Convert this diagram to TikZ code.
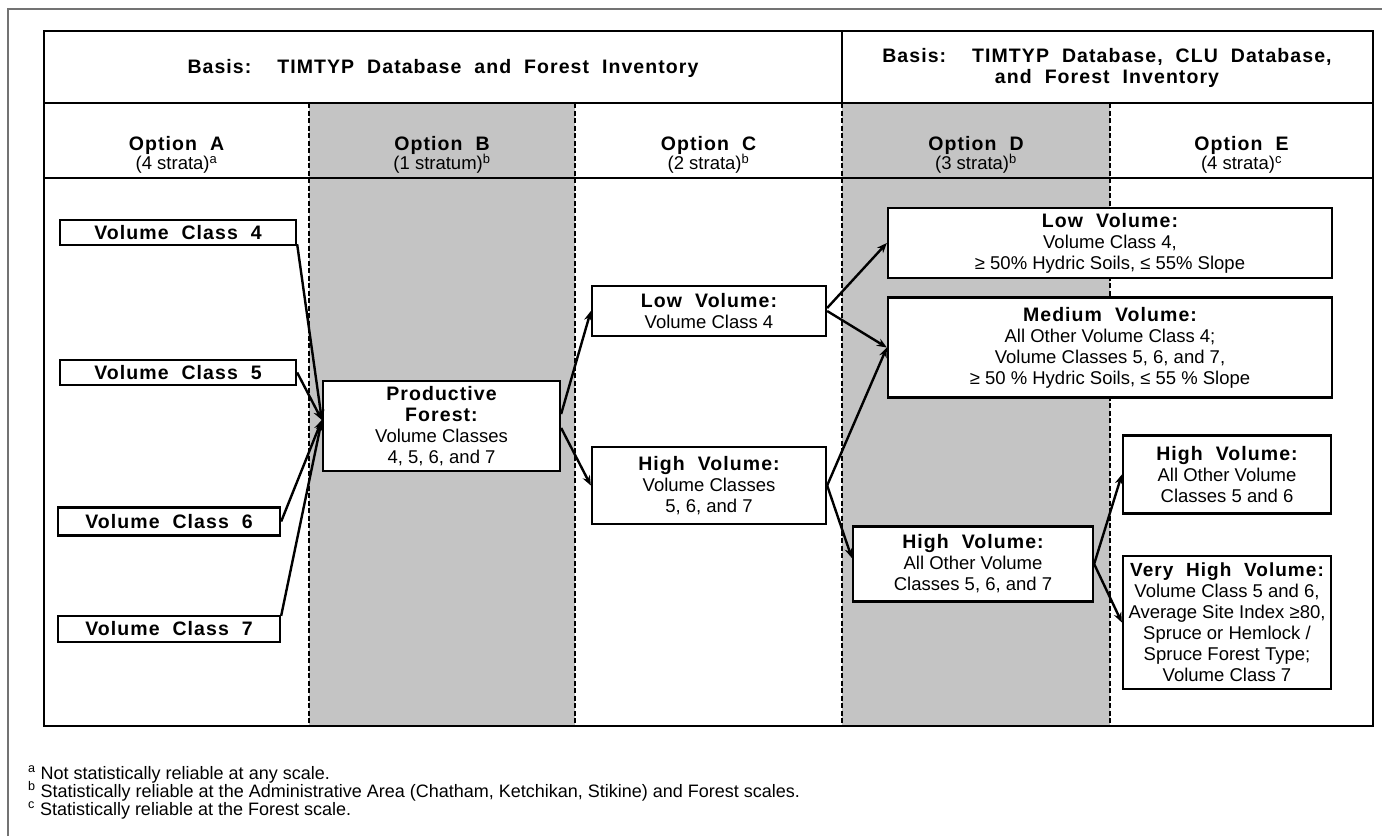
\documentclass[tikz,border=0pt]{standalone}
\usepackage{fontspec}
\setmainfont{Liberation Sans}
\newfontfamily\bfw[LetterSpace=5.5,WordSpace=2]{Liberation Sans}
\usetikzlibrary{arrows.meta}
\newcommand\hb[1]{{\fontsize{19.5}{21}\bfw\bfseries #1}}
\tikzset{
  box/.style={draw=black, line width=2.3pt, fill=white, align=center, inner sep=0pt,
    font=\fontsize{18.5}{21}\selectfont},
  arr/.style={line width=2.4pt, -{Stealth[length=10pt,width=8pt]}},
  frame/.style={draw=black, line width=2.2pt},
  colsep/.style={draw=black, line width=1.3pt, dash pattern=on 5pt off 2.5pt},
  shade/.style={fill=black!23, draw=none},
  lbl/.style={align=center, inner sep=0pt, font=\fontsize{18.5}{21}\selectfont},
  foot/.style={anchor=base west, inner sep=0pt, font=\fontsize{18}{18}\selectfont},
}
\begin{document}
\begin{tikzpicture}[x=1pt,y=-1pt]
\useasboundingbox (0,0) rectangle (1382,836);
\fill[white] (0,0) rectangle (1382,836);
% outer thin frame
\draw[black!55, line width=1.2pt] (8,836) -- (8,9) -- (1382,9);
% shaded columns
\fill[shade] (309,103) rectangle (575,726);
\fill[shade] (842,103) rectangle (1110,726);
% column separators
\draw[colsep] (309,103) -- (309,726);
\draw[colsep] (575,103) -- (575,726);
\draw[colsep] (842,103) -- (842,726);
\draw[colsep] (1110,103) -- (1110,726);
% main frame
\draw[frame] (44,31) rectangle (1373,726);
\draw[frame] (44,103) -- (1373,103);
\draw[frame] (44,178) -- (1373,178);
\draw[frame] (842,31) -- (842,103);
% headers
\node[lbl] (h1) at (443,68) {\hb{Basis:\ \ TIMTYP Database and Forest Inventory}};
\node[lbl] (h2) at (1107,68) {\hb{Basis:\ \ TIMTYP Database, CLU Database,}\\\hb{and Forest Inventory}};
% option labels
\node[lbl] (oa) at (176.5,155) {\hb{Option A}\\[-2pt](4 strata)\textsuperscript{a}};
\node[lbl] (ob) at (442,155) {\hb{Option B}\\[-2pt](1 stratum)\textsuperscript{b}};
\node[lbl] (oc) at (708.5,155) {\hb{Option C}\\[-2pt](2 strata)\textsuperscript{b}};
\node[lbl] (od) at (976,155) {\hb{Option D}\\[-2pt](3 strata)\textsuperscript{b}};
\node[lbl] (oe) at (1241.5,155) {\hb{Option E}\\[-2pt](4 strata)\textsuperscript{c}};
% option A boxes
\node[box, minimum width=236pt, minimum height=25pt] (vc4) at (178,232.5) {\hb{Volume Class 4}};
\node[box, minimum width=236pt, minimum height=25pt] (vc5) at (178,372.5) {\hb{Volume Class 5}};
\node[box, minimum width=222pt, minimum height=28pt] (vc6) at (169,521.5) {\hb{Volume Class 6}};
\node[box, minimum width=222pt, minimum height=26pt] (vc7) at (169,629) {\hb{Volume Class 7}};
% option B
\node[box, minimum width=237pt, minimum height=90pt] (pf) at (441.5,426) {\hb{Productive}\\\hb{Forest:}\\Volume Classes\\4, 5, 6, and 7};
% option C
\node[box, minimum width=234pt, minimum height=50pt] (lowc) at (709,311) {\hb{Low Volume:}\\Volume Class 4};
\node[box, minimum width=234pt, minimum height=77pt] (highc) at (709,485.5) {\hb{High Volume:}\\Volume Classes\\5, 6, and 7};
% option D / E
\node[box, minimum width=444pt, minimum height=70pt] (lowd) at (1110,243) {\hb{Low Volume:}\\Volume Class 4,\\≥ 50\% Hydric Soils, ≤ 55\% Slope};
\node[box, minimum width=444pt, minimum height=100pt] (med) at (1110,347.5) {\hb{Medium Volume:}\\All Other Volume Class 4;\\Volume Classes 5, 6, and 7,\\≥ 50 \% Hydric Soils, ≤ 55 \% Slope};
\node[box, minimum width=240pt, minimum height=75pt] (highd) at (973,564) {\hb{High Volume:}\\All Other Volume\\Classes 5, 6, and 7};
\node[box, minimum width=208pt, minimum height=78pt] (highe) at (1227,474.5) {\hb{High Volume:}\\All Other Volume\\Classes 5 and 6};
\node[box, minimum width=208pt, minimum height=133pt] (vh) at (1227,622.5) {{\fontsize{19}{21}\bfw\bfseries Very High Volume:}\\Volume Class 5 and 6,\\Average Site Index ≥80,\\Spruce or Hemlock /\\Spruce Forest Type;\\Volume Class 7};
% connectors
\coordinate (pfin) at ([yshift=6pt]pf.west);
\draw[arr] ([yshift=2pt]vc4.south east) -- (pfin);
\draw[arr] (vc5.east) -- (pfin);
\draw[arr] (vc6.east) -- (pfin);
\draw[arr] ([yshift=-1pt]vc7.north east) -- (pfin);
\draw[arr] ([yshift=12pt]pf.east) -- (lowc.west);
\draw[arr] ([yshift=-2pt]pf.east) -- (highc.west);
\draw[arr] ([yshift=3pt]lowc.east) -- (lowd.west);
\draw[arr] (lowc.east) -- (med.west);
\draw[arr] (highc.east) -- (med.west);
\draw[arr] (highc.east) -- ([yshift=6pt]highd.west);
\draw[arr] (highd.east) -- (highe.west);
\draw[arr] (highd.east) -- (vh.west);
% footnotes
\node[foot] (fa) at (28,779) {\textsuperscript{a} Not statistically reliable at any scale.};
\node[foot] (fb) at (28,797) {\textsuperscript{b} Statistically reliable at the Administrative Area (Chatham, Ketchikan, Stikine) and Forest scales.};
\node[foot] (fc) at (28,815) {\textsuperscript{c} Statistically reliable at the Forest scale.};
\end{tikzpicture}
\end{document}
